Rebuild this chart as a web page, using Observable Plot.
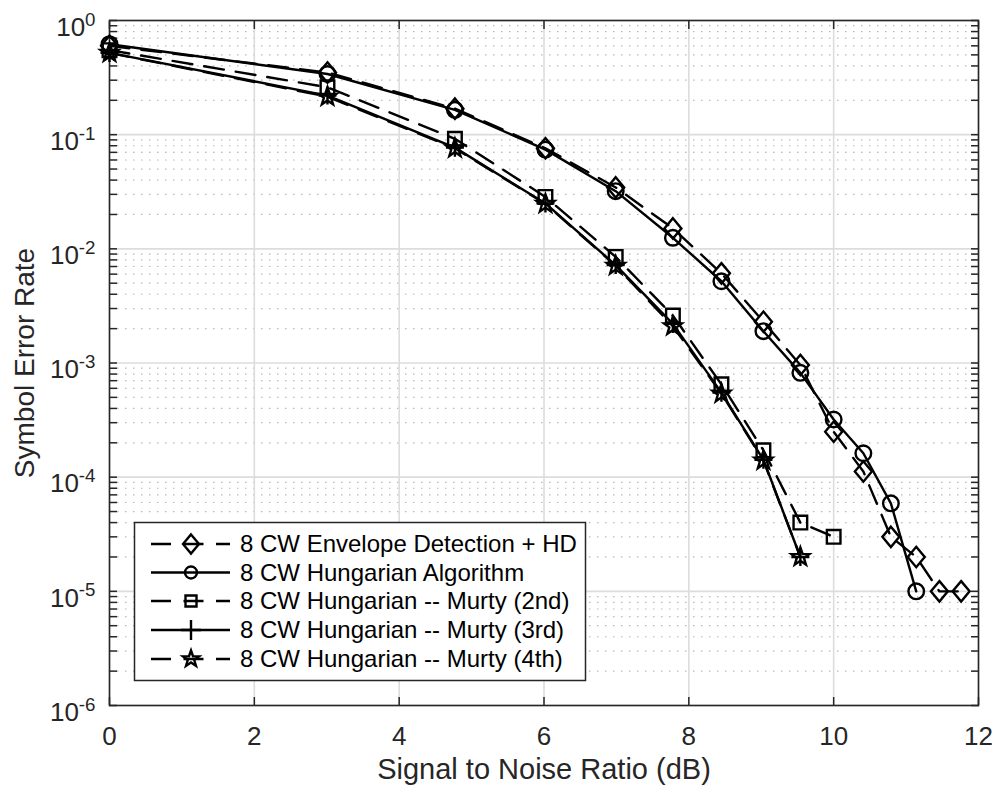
<!DOCTYPE html>
<html><head><meta charset="utf-8">
<script src="https://cdn.jsdelivr.net/npm/d3@7"></script>
<script src="https://cdn.jsdelivr.net/npm/@observablehq/plot@0.6"></script>
<style>body{margin:0;background:#fff;} #chart svg{display:block;}</style>
</head><body><div id="chart"></div>
<script>
// ---- data ----
const snrDb = [0, 3.01, 4.77, 6.02, 6.99, 7.78, 8.45, 9.03, 9.54, 10, 10.41, 10.79, 11.14, 11.46, 11.76];
const serEnvelope  = [0.60, 0.35, 0.169, 0.076, 0.0345, 0.0151, 0.0061, 0.0023, 0.00096, 0.00025, 0.000112, 3.0e-5, 2.0e-5, 1.0e-5, 1.0e-5];
const serHungarian = [0.62, 0.34, 0.165, 0.074, 0.032, 0.0125, 0.0052, 0.0019, 0.00082, 0.00032, 0.000162, 5.9e-5, 1.0e-5];
const serMurty2    = [0.55, 0.26, 0.092, 0.0285, 0.0085, 0.0026, 0.00065, 0.000172, 4.0e-5, 3.0e-5];
const serMurty3    = [0.52, 0.22, 0.077, 0.025, 0.0072, 0.0022, 0.00055, 0.000142, 2.0e-5];
const serMurty4    = [0.52, 0.215, 0.076, 0.0248, 0.0071, 0.0021, 0.00054, 0.00014, 2.0e-5];
const seriesNames = [
  "8 CW Envelope Detection + HD",
  "8 CW Hungarian Algorithm",
  "8 CW Hungarian -- Murty (2nd)",
  "8 CW Hungarian -- Murty (3rd)",
  "8 CW Hungarian -- Murty (4th)"
];
const xTicks = [0, 2, 4, 6, 8, 10, 12];
const yDecades = [1e-6, 1e-5, 1e-4, 1e-3, 1e-2, 1e-1, 1];
const xTitle = "Signal to Noise Ratio (dB)";
const yTitle = "Symbol Error Rate";

// ---- marker shapes ----
const rad = s => Math.sqrt(s / Math.PI);
const symDiamond = {draw(c, s) { const r = rad(s); c.moveTo(0, -1.2 * r); c.lineTo(r, 0); c.lineTo(0, 1.2 * r); c.lineTo(-r, 0); c.closePath(); }};
const symCircle  = {draw(c, s) { const r = rad(s); c.moveTo(r, 0); c.arc(0, 0, r, 0, 2 * Math.PI); c.closePath(); }};
const symSquare  = {draw(c, s) { const r = rad(s); c.rect(-r, -r, 2 * r, 2 * r); }};
const symPlus    = {draw(c, s) { const r = rad(s); c.moveTo(-r, 0); c.lineTo(r, 0); c.moveTo(0, -r); c.lineTo(0, r); }};
const symStar    = {draw(c, s) {
  const R = rad(s), ri = R * 0.40;
  for (let i = 0; i < 10; i++) {
    const a = -Math.PI / 2 + i * Math.PI / 5, rr = i % 2 ? ri : R;
    if (i) c.lineTo(rr * Math.cos(a), rr * Math.sin(a)); else c.moveTo(rr * Math.cos(a), rr * Math.sin(a));
  }
  c.closePath();
}};

const DASH = "20,12";
const LW = 2.4;
const series = [
  {name: seriesNames[0], values: serEnvelope,  dash: DASH, sym: symDiamond, r: 8.5, lr: 8},
  {name: seriesNames[1], values: serHungarian, dash: null, sym: symCircle,  r: 7.8, lr: 6},
  {name: seriesNames[2], values: serMurty2,    dash: DASH, sym: symSquare,  r: 6.8, lr: 5.5},
  {name: seriesNames[3], values: serMurty3,    dash: null, sym: symPlus,    r: 9,   lr: 10},
  {name: seriesNames[4], values: serMurty4,    dash: DASH, sym: symStar,    r: 9.5, lr: 8.5}
];
series.forEach(s => s.rows = s.values.map((v, i) => ({x: snrDb[i], y: v})));

const yMinor = [];
for (let k = 0; k < yDecades.length - 1; k++) for (let m = 2; m <= 9; m++) yMinor.push(m * yDecades[k]);
const yAllTicks = yDecades.concat(yMinor);

const AX = "#262626";
const FONT = "'Liberation Sans', Arial, Helvetica, sans-serif";

const marks = [
  Plot.gridY(yMinor, {stroke: "#b8b8b8", strokeOpacity: 1, strokeWidth: 1.2, strokeDasharray: "1.5,6.5"}),
  Plot.gridY(yDecades, {stroke: "#dcdcdc", strokeOpacity: 1, strokeWidth: 1.6}),
  Plot.gridX(xTicks, {stroke: "#dcdcdc", strokeOpacity: 1, strokeWidth: 1.6}),
  // inward ticks on all four sides
  Plot.axisX(xTicks, {anchor: "bottom", tickSize: 8, dy: -8, fill: "none", tickFormat: () => "", label: null, stroke: AX, strokeWidth: 1.5}),
  Plot.axisX(xTicks, {anchor: "top", tickSize: 8, dy: 8, fill: "none", tickFormat: () => "", label: null, stroke: AX, strokeWidth: 1.5}),
  Plot.axisY(yAllTicks, {anchor: "left", tickSize: 8, dx: 8, fill: "none", tickFormat: () => "", label: null, stroke: AX, strokeWidth: 1.5}),
  Plot.axisY(yAllTicks, {anchor: "right", tickSize: 8, dx: -8, fill: "none", tickFormat: () => "", label: null, stroke: AX, strokeWidth: 1.5}),
  // tick labels
  Plot.axisX(xTicks, {anchor: "bottom", tickSize: 0, tickPadding: 21, fontSize: 26, fill: AX, label: null}),
  Plot.axisY(yDecades, {anchor: "left", tickSize: 0, tickPadding: 14, dy: 7, fontSize: 26, fill: AX, label: null,
    tickFormat: d => "10^" + Math.round(Math.log10(d))}),
  // titles
  Plot.text([xTitle], {text: d => d, frameAnchor: "bottom", dy: 64, fontSize: 29, fill: AX, textAnchor: "middle", lineAnchor: "middle"}),
  Plot.text([yTitle], {text: d => d, frameAnchor: "left", dx: -84, rotate: -90, fontSize: 28, fill: AX, textAnchor: "middle", lineAnchor: "middle"}),
  Plot.frame({stroke: AX, strokeWidth: 1.6})
];
for (const s of series) {
  marks.push(Plot.line(s.rows, {x: "x", y: "y", stroke: "black", strokeWidth: LW, strokeDasharray: s.dash || undefined}));
  marks.push(Plot.dot(s.rows, {x: "x", y: "y", symbol: s.sym, r: s.r, stroke: "black", strokeWidth: LW, fill: "none"}));
}

const chart = Plot.plot({
  width: 995, height: 789,
  marginLeft: 109, marginRight: 17, marginTop: 20, marginBottom: 84,
  style: {fontFamily: FONT, fontSize: "26px", background: "white", color: AX, overflow: "visible"},
  x: {domain: [0, 12], label: null},
  y: {type: "log", domain: [1e-6, 1], label: null},
  marks
});
document.getElementById("chart").append(chart);

// superscript exponents on the y tick labels
d3.select(chart).selectAll('g[aria-label="y-axis tick label"] text').each(function() {
  const t = this.textContent;
  if (!t.includes("^")) return;
  const [base, exp] = t.split("^");
  this.textContent = base;
  const sp = document.createElementNS("http://www.w3.org/2000/svg", "tspan");
  sp.setAttribute("dy", "-0.55em");
  sp.setAttribute("font-size", "0.72em");
  sp.textContent = exp;
  this.appendChild(sp);
});

// legend (inside the axes, lower left)
const svg = d3.select(chart);
const lg = svg.append("g").attr("font-family", FONT).attr("text-anchor", "start");
lg.append("rect").attr("x", 134.5).attr("y", 522.5).attr("width", 451).attr("height", 158)
  .attr("fill", "white").attr("stroke", AX).attr("stroke-width", 1.5);
const rowY = [544, 572.5, 601, 630, 659];
series.forEach((s, i) => {
  const y = rowY[i];
  lg.append("line").attr("x1", 151).attr("x2", 230).attr("y1", y).attr("y2", y)
    .attr("stroke", "black").attr("stroke-width", LW).attr("stroke-dasharray", s.dash ? "20,12.5" : null);
  const p = d3.path();
  s.sym.draw(p, Math.PI * s.lr * s.lr);
  lg.append("path").attr("d", p.toString()).attr("transform", `translate(191,${y})`)
    .attr("fill", "none").attr("stroke", "black").attr("stroke-width", LW);
  lg.append("text").attr("x", 240).attr("y", y).attr("dy", "0.35em").attr("font-size", 24)
    .attr("text-anchor", "start").attr("fill", "black").text(s.name);
});
</script>
</body></html>
